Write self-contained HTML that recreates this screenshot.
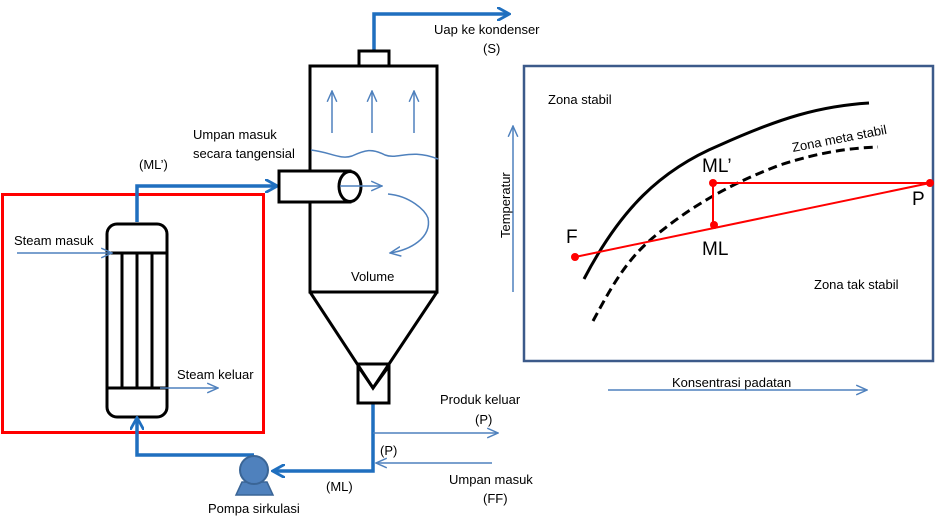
<!DOCTYPE html>
<html><head><style>body{margin:0;background:#fff}svg text{font-family:"Liberation Sans",sans-serif;fill:#000}</style></head><body>
<svg width="940" height="524" viewBox="0 0 940 524" xmlns="http://www.w3.org/2000/svg">
<defs>
<marker id="ab" viewBox="0 0 10 10" refX="8" refY="5" markerWidth="4" markerHeight="4" orient="auto"><path d="M0,0 L9,5 L0,10" fill="none" stroke="#1f6fbf" stroke-width="2"/></marker>
<marker id="at" viewBox="0 0 10 10" refX="9" refY="5" markerWidth="8" markerHeight="8" orient="auto"><path d="M0,1 L9,5 L0,9" fill="none" stroke="#4f81bd" stroke-width="1.2"/></marker>
</defs>
<!-- red box -->
<rect x="2.5" y="194.5" width="261" height="238" fill="none" stroke="#f00" stroke-width="3"/>
<!-- heat exchanger -->
<rect x="107" y="224" width="60" height="193" rx="10" fill="#fff" stroke="#000" stroke-width="3"/>
<line x1="107" y1="253" x2="167" y2="253" stroke="#000" stroke-width="3"/>
<line x1="107" y1="388" x2="167" y2="388" stroke="#000" stroke-width="3"/>
<line x1="122" y1="253" x2="122" y2="388" stroke="#000" stroke-width="3"/>
<line x1="137" y1="253" x2="137" y2="388" stroke="#000" stroke-width="3"/>
<line x1="152" y1="253" x2="152" y2="388" stroke="#000" stroke-width="3"/>
<!-- thick pipes -->
<g stroke="#1f6fbf" stroke-width="3.5" fill="none">
<path d="M137,222 V186 H276" marker-end="url(#ab)"/>
<path d="M374,51 V14 H508" marker-end="url(#ab)"/>
<path d="M373,403 V471 H274" marker-end="url(#ab)"/>
<path d="M254,455 H137 V419" marker-end="url(#ab)"/>
</g>
<!-- vessel -->
<rect x="359" y="51" width="30" height="15" fill="#fff" stroke="#000" stroke-width="3"/>
<rect x="310" y="66" width="127" height="226" fill="none" stroke="#000" stroke-width="3"/>
<path d="M310,292 L373,388 L437,292" fill="none" stroke="#000" stroke-width="3"/>
<rect x="358" y="364" width="31" height="39" fill="none" stroke="#000" stroke-width="3"/>
<path d="M358,366 L373,388 L389,366" fill="none" stroke="#000" stroke-width="3"/>
<rect x="279" y="171" width="71" height="31" fill="#fff" stroke="#000" stroke-width="3"/>
<ellipse cx="350" cy="186.5" rx="11" ry="15" fill="#fff" stroke="#000" stroke-width="3"/>
<!-- thin blue -->
<g stroke="#4f81bd" stroke-width="1.5" fill="none">
<path d="M332,133 V91" marker-end="url(#at)"/>
<path d="M372,133 V91" marker-end="url(#at)"/>
<path d="M414,133 V91" marker-end="url(#at)"/>
<path d="M311,150 C330,152 340,160 352,156 C365,150 372,148 385,155 C398,160 410,148 438,159"/>
<path d="M340,186 H382" marker-end="url(#at)"/>
<path d="M388,194 C410,196 425,210 428,218 C432,238 410,250 390,253" marker-end="url(#at)"/>
<path d="M17,253 H112" marker-end="url(#at)"/>
<path d="M160,388 H218" marker-end="url(#at)"/>
<path d="M373,433 H498" marker-end="url(#at)"/>
<path d="M492,463 H376" marker-end="url(#at)"/>
<path d="M513,292 V126" marker-end="url(#at)"/>
<path d="M608,390 H867" marker-end="url(#at)"/>
</g>
<!-- pump -->
<path d="M242,482 L236,495 H273 L267,482 Z" fill="#4f81bd" stroke="#3a6596" stroke-width="1.5"/>
<circle cx="254" cy="470" r="14" fill="#4f81bd" stroke="#3a6596" stroke-width="2"/>
<!-- texts -->
<g font-size="13">
<text x="434" y="34">Uap ke kondenser</text>
<text x="483" y="53">(S)</text>
<text x="193" y="139">Umpan masuk</text>
<text x="193" y="158">secara tangensial</text>
<text x="139" y="169">(ML’)</text>
<text x="14" y="245">Steam masuk</text>
<text x="177" y="379">Steam keluar</text>
<text x="351" y="281">Volume</text>
<text x="440" y="404">Produk keluar</text>
<text x="475" y="424">(P)</text>
<text x="380" y="455">(P)</text>
<text x="449" y="484">Umpan masuk</text>
<text x="483" y="503">(FF)</text>
<text x="326" y="491">(ML)</text>
<text x="208" y="513">Pompa sirkulasi</text>
<text transform="translate(510,238) rotate(-90)">Temperatur</text>
<text x="548" y="104">Zona stabil</text>
<text x="814" y="289">Zona tak stabil</text>
<text x="672" y="387">Konsentrasi padatan</text>
<text transform="translate(793,152) rotate(-11)">Zona meta stabil</text>
</g>
<!-- graph -->
<rect x="524" y="66" width="409" height="295" fill="none" stroke="#3c5a8a" stroke-width="2.5"/>
<path d="M584,279 C620,210 660,170 720,145 C780,118 820,106 869,103" fill="none" stroke="#000" stroke-width="3"/>
<path d="M593,321 C615,280 630,255 660,232 C700,200 740,180 780,165 C820,152 850,148 878,147" fill="none" stroke="#000" stroke-width="3" stroke-dasharray="9,5"/>
<g stroke="#f00" stroke-width="2" fill="none">
<path d="M575,257 L930,183 H713 V225"/>
</g>
<g fill="#f00"><circle cx="575" cy="257" r="4"/><circle cx="714" cy="225" r="4"/><circle cx="713" cy="183" r="4"/><circle cx="930" cy="183" r="4"/></g>
<g font-size="19">
<text x="702" y="172">ML’</text>
<text x="702" y="255">ML</text>
<text x="566" y="243">F</text>
<text x="912" y="205">P</text>
</g>
</svg>
</body></html>
